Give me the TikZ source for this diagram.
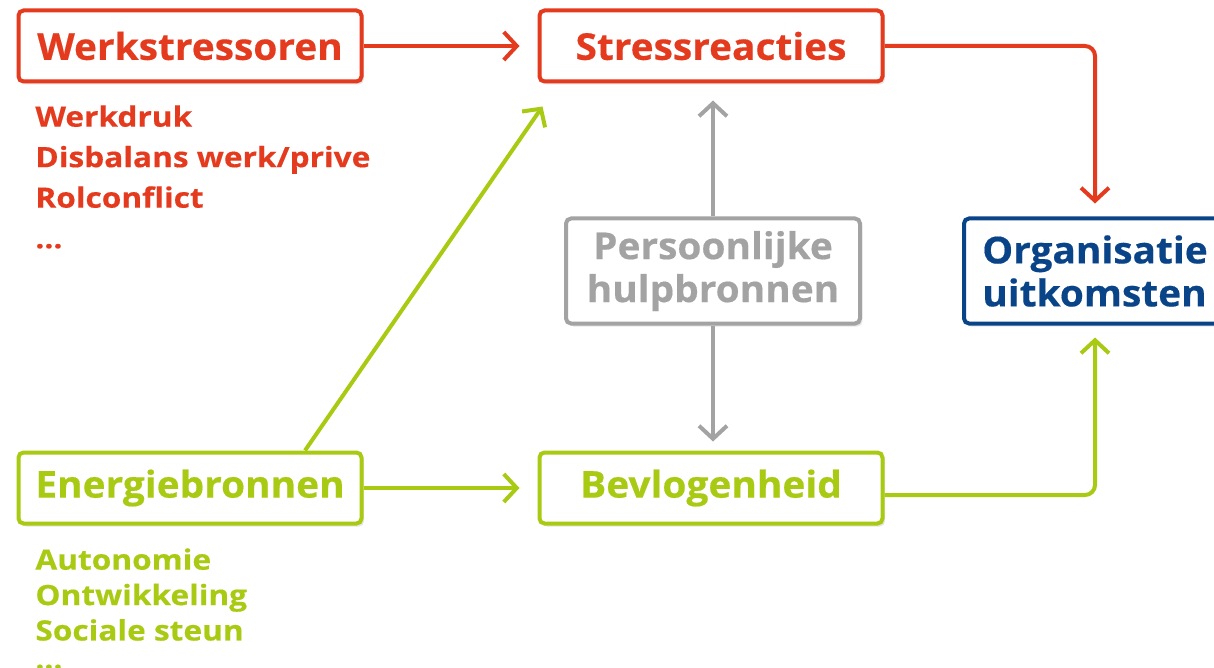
\documentclass[tikz,border=0pt]{standalone}
\usepackage{fontspec}
\setmainfont{Open Sans}
\newfontfamily\boxfont{Open Sans}[FakeStretch=1.05,FakeBold=0.4]
\newfontfamily\listfont{Open Sans}[FakeStretch=1.13,FakeBold=0.4]
\usetikzlibrary{arrows.meta,shadows,positioning}
\definecolor{stressred}{RGB}{228,58,30}
\definecolor{energygreen}{RGB}{168,202,18}
\definecolor{helpgray}{RGB}{163,163,163}
\definecolor{orgblue}{RGB}{10,68,136}

\begin{document}
\begin{tikzpicture}[x=0.5pt,y=-0.5pt]
\tikzset{box/.style={draw=#1, text=#1, fill=white, line width=2pt, rounded corners=2.5pt, inner sep=0pt, font=\boxfont\bfseries\fontsize{18.5}{21.5}\selectfont, minimum width=171.5pt, minimum height=35.5pt, drop shadow={opacity=0.2, shadow xshift=1.2pt, shadow yshift=-1.5pt}}}
\tikzset{list/.style={text=#1, align=left, anchor=north west, inner sep=0pt}}
\tikzset{link/.style={draw=#1, line width=2pt, rounded corners=5pt, -{Straight Barb[length=6.5pt,width=14pt,line width=2pt]}}}
\useasboundingbox (0,0) rectangle (1214,668);
% boxes
\node[box=stressred] (werk) at (190,46) {Werkstressoren};
\node[box=stressred] (stress) at (711,46) {Stressreacties};
\node[box=helpgray, align=center, minimum width=147pt, minimum height=52.5pt] (hulp) at (713,271) {Persoonlijke\\hulpbronnen};
\node[box=orgblue, anchor=west, align=left, minimum width=131pt, minimum height=52.5pt] (org) at (962,271) {Organisatie\\uitkomsten};
\node[box=energygreen] (energie) at (190,488) {Energiebronnen};
\node[box=energygreen] (bevlo) at (711,488) {Bevlogenheid};
% lists
\node[list=stressred, font=\listfont\bfseries\fontsize{14}{20.25}\selectfont] (werklist) at (35,105) {Werkdruk\\Disbalans werk/prive\\Rolconflict\\...};
\node[list=energygreen, font=\listfont\bfseries\fontsize{14}{17.7}\selectfont] (energielist) at (35,548) {Autonomie\\Ontwikkeling\\Sociale steun\\[-3.5pt]...};
% arrows
\draw[link=stressred, shorten >=9pt] (werk) -- (stress);
\draw[link=stressred, shorten >=6.5pt] (stress.east) -| (org.north);
\draw[link=energygreen, shorten >=9pt] (energie) -- (bevlo);
\draw[link=energygreen, shorten >=6pt] ([yshift=-3.5pt]bevlo.east) -| (org.south);
\draw[link=energygreen] ([xshift=57.5pt]energie.north) -- ([xshift=2.5pt,yshift=-11.5pt]stress.south west);
\draw[link=helpgray, shorten >=8.5pt] (hulp.north) -- (hulp.north |- stress.south);
\draw[link=helpgray, shorten >=4.5pt] (hulp.south) -- (hulp.south |- bevlo.north);
\end{tikzpicture}
\end{document}
